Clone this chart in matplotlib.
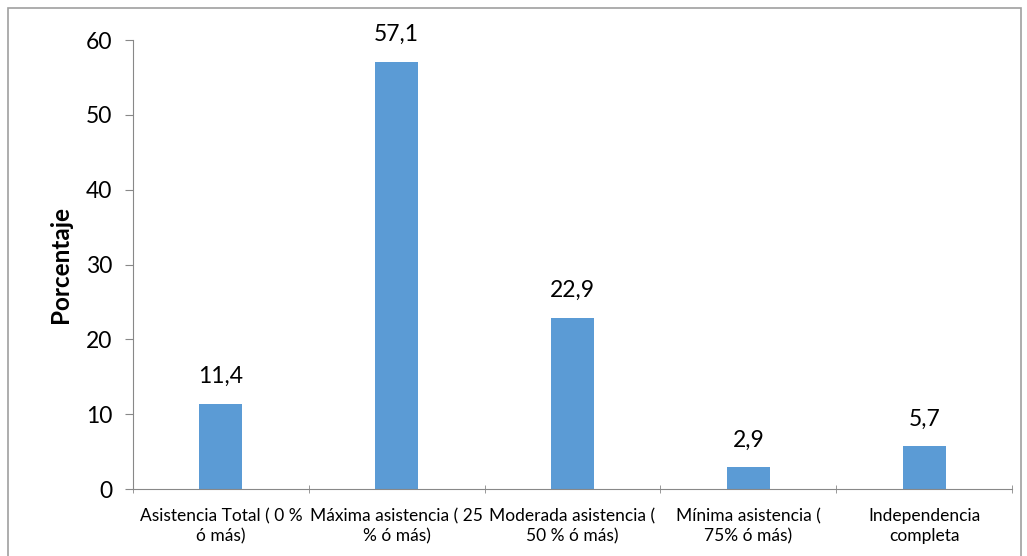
import matplotlib
matplotlib.use('Agg')
import matplotlib.pyplot as plt
import numpy as np
from matplotlib.patches import Rectangle

categories = [
    'Asistencia Total ( 0 %\nó más)',
    'Máxima asistencia ( 25\n% ó más)',
    'Moderada asistencia (\n50 % ó más)',
    'Mínima asistencia (\n75% ó más)',
    'Independencia\ncompleta',
]
porcentajes = [11.4, 57.1, 22.9, 2.9, 5.7]

plt.rcParams['font.family'] = ['Lato', 'DejaVu Sans']

fig = plt.figure(figsize=(10.27, 5.56), dpi=100)
ax = fig.add_axes([0.1295, 0.1205, 0.856, 0.8075])

x = np.arange(len(categories))
bars = ax.bar(x, porcentajes, width=0.245, color='#5B9BD5')

# Value labels with decimal comma
for bar, val in zip(bars, porcentajes):
    ax.text(bar.get_x() + bar.get_width() / 2, val + 2.2,
            f'{val:.1f}'.replace('.', ','),
            ha='center', va='bottom', fontsize=16.5)

ax.set_xlim(-0.5, len(categories) - 0.5)
ax.set_ylim(0, 60)
ax.set_yticks(range(0, 61, 10))
ax.tick_params(axis='y', labelsize=16.5, length=6, color='#888888', pad=9)

ax.set_xticks(x)
ax.set_xticklabels(categories, fontsize=12.5, linespacing=1.25)
ax.tick_params(axis='x', which='major', length=0, pad=14)
ax.set_xticks(np.arange(-0.5, len(categories), 1.0), minor=True)
ax.tick_params(axis='x', which='minor', length=6, color='#888888', direction='inout')

ax.set_ylabel('Porcentaje', fontsize=17.5, fontweight='bold', labelpad=10)

for side in ('top', 'right'):
    ax.spines[side].set_visible(False)
for side in ('left', 'bottom'):
    ax.spines[side].set_color('#888888')

# Outer chart border
fig.patches.append(Rectangle((8 / 1027, -0.01), 1013 / 1027, 1 - 8 / 556 + 0.01,
                             transform=fig.transFigure, fill=False,
                             edgecolor='#A0A0A0', linewidth=1.2))

plt.savefig('out.png', dpi=100)
plt.close()
